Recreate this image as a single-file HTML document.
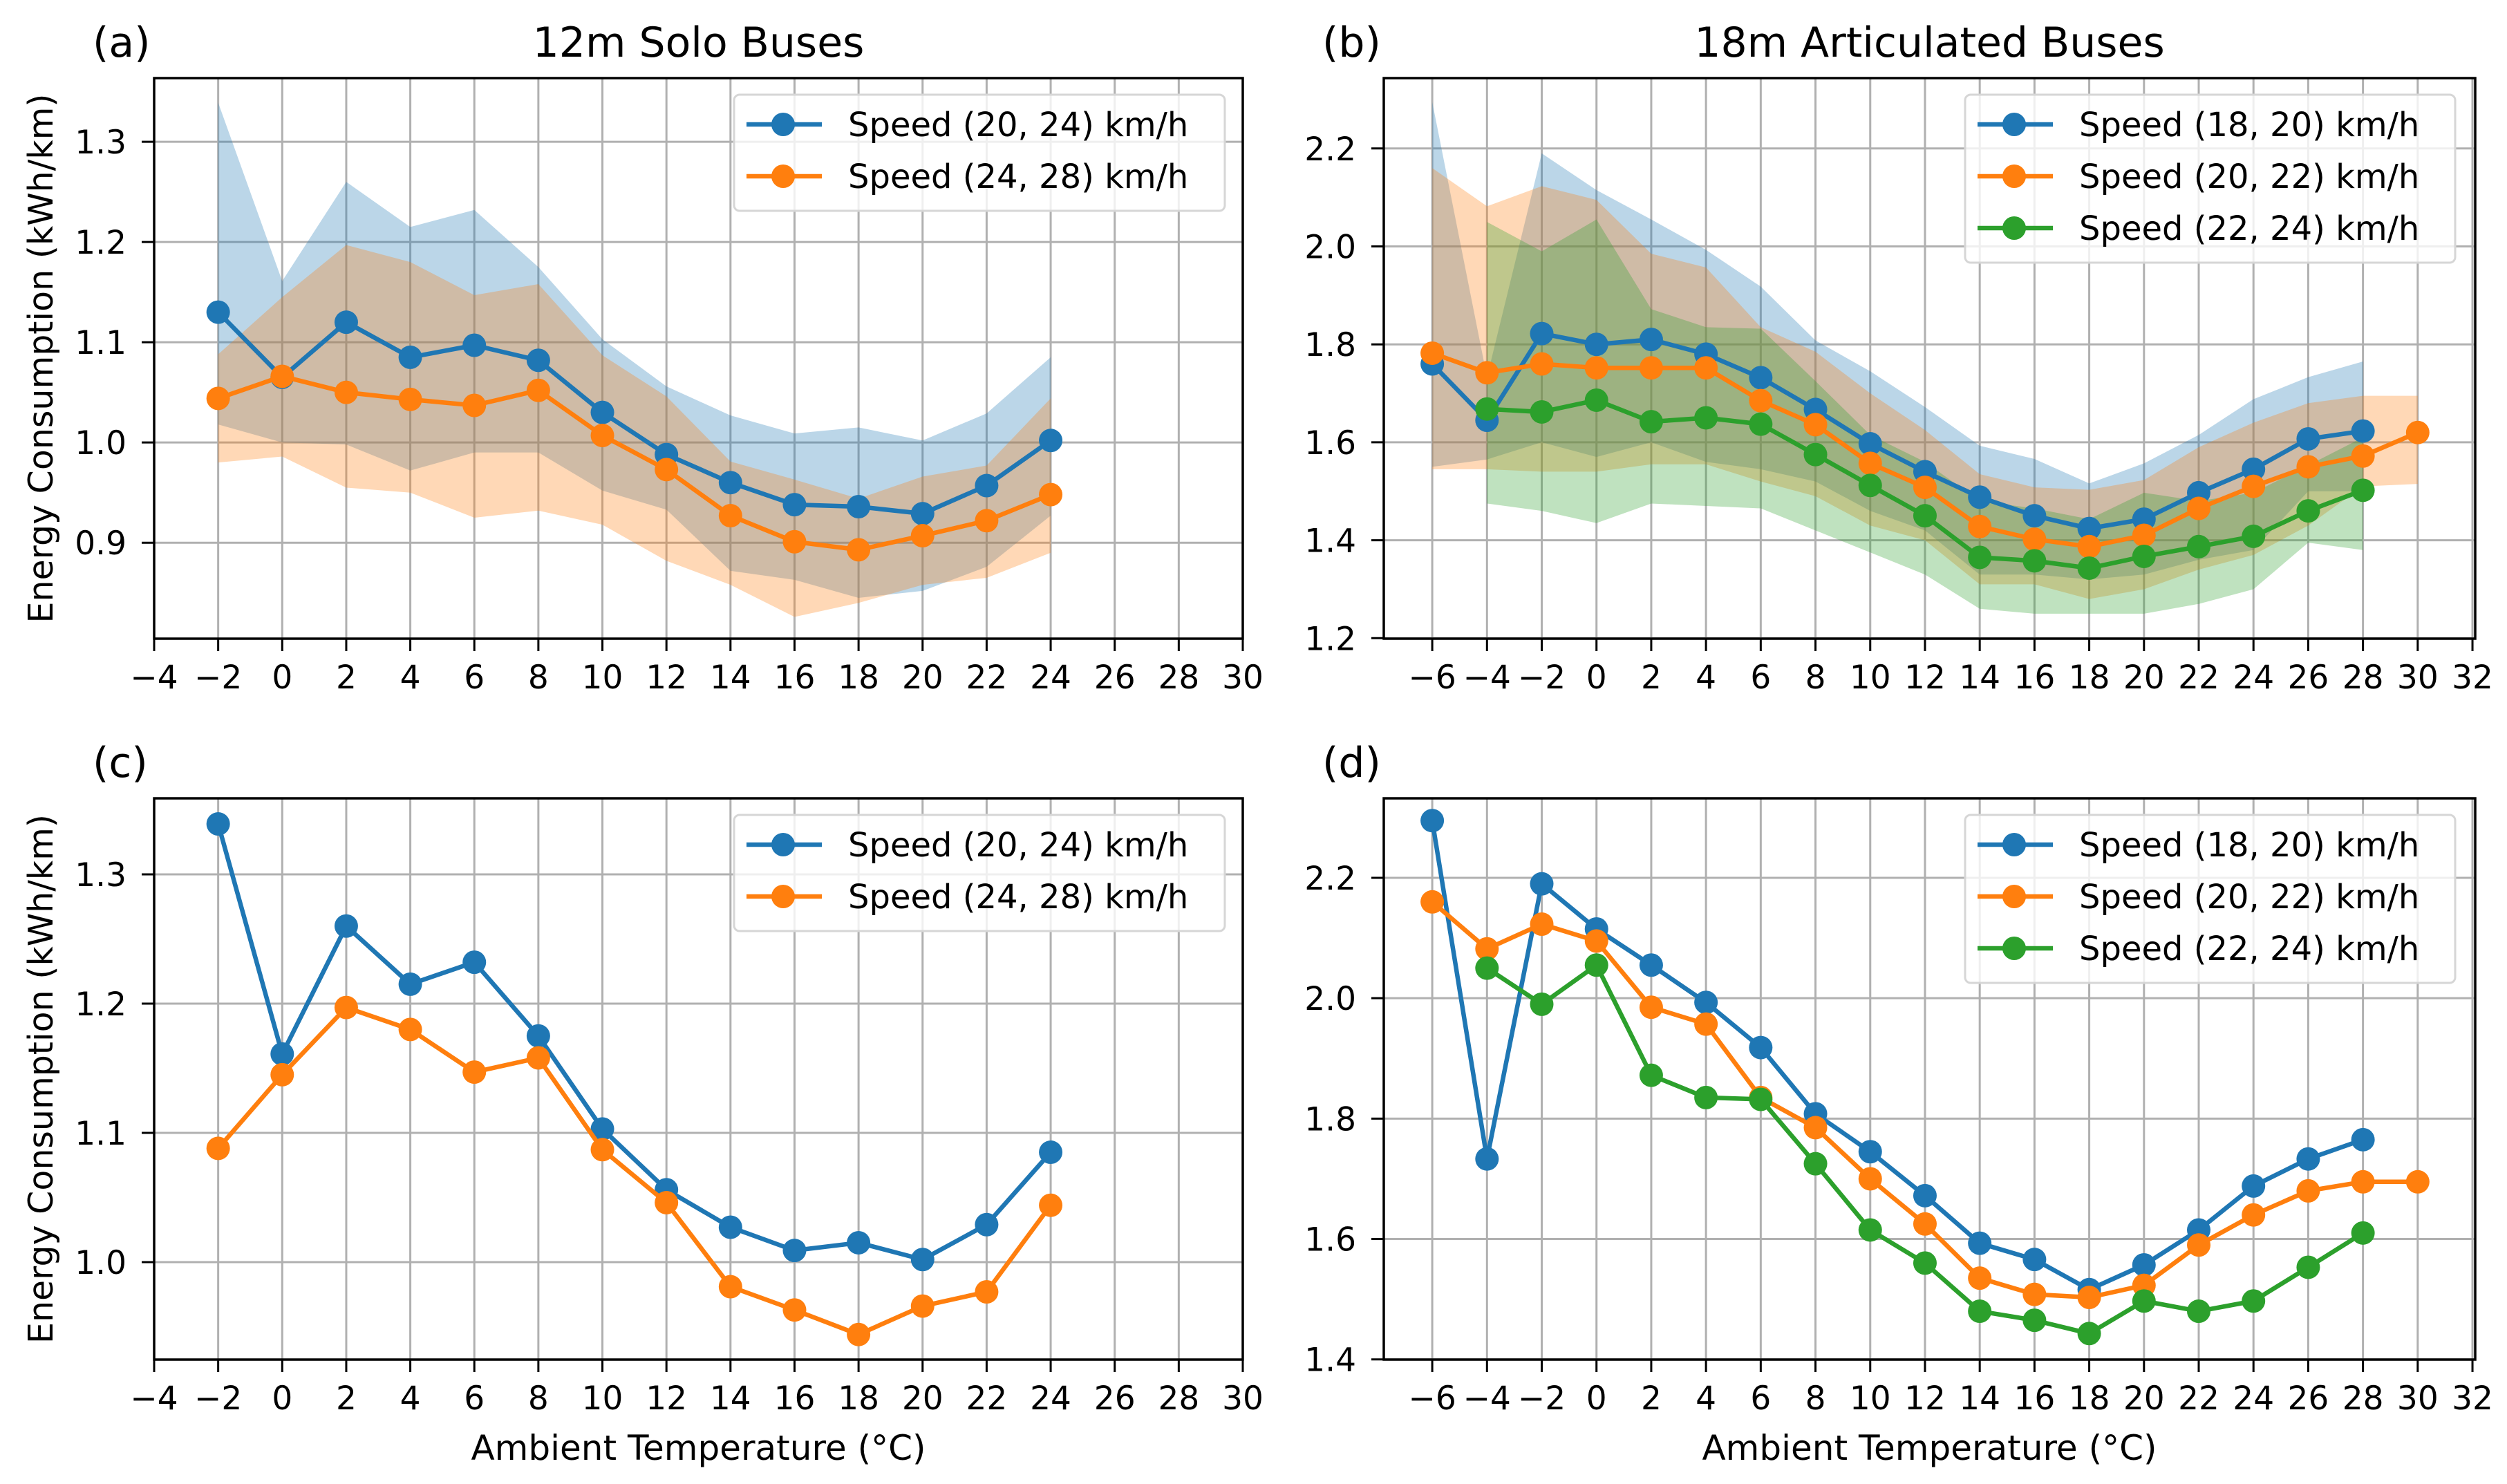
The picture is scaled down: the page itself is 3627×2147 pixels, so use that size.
<!DOCTYPE html>
<html><head><meta charset="utf-8"><style>
html,body{margin:0;padding:0;background:#fff}
svg{display:block;font-family:"DejaVu Sans","Liberation Sans",sans-serif}
</style></head><body>
<svg id="fig" width="3627" height="2147" viewBox="0 0 3627 2147" xmlns="http://www.w3.org/2000/svg"></svg>
<script>
// ---- data ----
const tempsA = [-2,0,2,4,6,8,10,12,14,16,18,20,22,24];
const aBlueMean = [1.13,1.065,1.12,1.085,1.097,1.082,1.03,0.988,0.96,0.938,0.936,0.929,0.957,1.002];
const aOrangeMean = [1.044,1.066,1.05,1.043,1.037,1.052,1.007,0.973,0.927,0.901,0.893,0.907,0.922,0.948];
const aBlueMax = [1.339,1.161,1.26,1.215,1.232,1.175,1.103,1.056,1.027,1.009,1.015,1.002,1.029,1.085];
const aOrangeMax = [1.088,1.145,1.197,1.18,1.147,1.158,1.087,1.046,0.981,0.963,0.944,0.966,0.977,1.044];
const aBlueMin = [1.018,1.0,0.998,0.972,0.99,0.99,0.952,0.933,0.872,0.863,0.845,0.852,0.876,0.927];
const aOrangeMin = [0.98,0.986,0.955,0.95,0.925,0.932,0.918,0.882,0.858,0.826,0.84,0.858,0.865,0.89];

const tempsBlue = [-6,-4,-2,0,2,4,6,8,10,12,14,16,18,20,22,24,26,28];
const tempsOrange = [-6,-4,-2,0,2,4,6,8,10,12,14,16,18,20,22,24,26,28,30];
const tempsGreen = [-4,-2,0,2,4,6,8,10,12,14,16,18,20,22,24,26,28];
const bBlueMean = [1.76,1.645,1.822,1.80,1.81,1.78,1.732,1.667,1.597,1.54,1.488,1.45,1.424,1.443,1.497,1.545,1.607,1.623];
const bOrangeMean = [1.782,1.742,1.76,1.752,1.752,1.752,1.685,1.636,1.557,1.508,1.428,1.402,1.387,1.41,1.465,1.51,1.55,1.572,1.62];
const bGreenMean = [1.668,1.662,1.686,1.642,1.65,1.637,1.575,1.512,1.45,1.365,1.358,1.343,1.367,1.387,1.408,1.46,1.502];
const bBlueMax = [2.295,1.733,2.19,2.115,2.055,1.993,1.918,1.808,1.745,1.672,1.593,1.566,1.516,1.557,1.615,1.688,1.733,1.765];
const bOrangeMax = [2.16,2.082,2.123,2.095,1.985,1.957,1.835,1.785,1.7,1.625,1.535,1.508,1.503,1.523,1.59,1.64,1.68,1.695,1.695];
const bGreenMax = [2.05,1.99,2.055,1.872,1.835,1.832,1.725,1.615,1.56,1.48,1.465,1.443,1.497,1.48,1.497,1.553,1.61];
const bBlueMin = [1.55,1.565,1.6,1.57,1.6,1.56,1.545,1.52,1.46,1.42,1.33,1.33,1.32,1.33,1.36,1.38,1.5,1.5];
const bOrangeMin = [1.545,1.545,1.54,1.54,1.555,1.555,1.52,1.49,1.43,1.4,1.31,1.31,1.28,1.3,1.34,1.37,1.43,1.51,1.515];
const bGreenMin = [1.475,1.46,1.435,1.475,1.47,1.465,1.42,1.375,1.33,1.26,1.25,1.25,1.25,1.27,1.3,1.395,1.38];

const xTicksA = [-4,-2,0,2,4,6,8,10,12,14,16,18,20,22,24,26,28,30];
const xTicksB = [-6,-4,-2,0,2,4,6,8,10,12,14,16,18,20,22,24,26,28,30,32];
const yTicksA = [0.9,1.0,1.1,1.2,1.3];
const yTicksC = [1.0,1.1,1.2,1.3];
const yTicksB = [1.2,1.4,1.6,1.8,2.0,2.2];
const yTicksD = [1.4,1.6,1.8,2.0,2.2];
const legendA = ["Speed (20, 24) km/h","Speed (24, 28) km/h"];
const legendB = ["Speed (18, 20) km/h","Speed (20, 22) km/h","Speed (22, 24) km/h"];

const C = {blue:"#1f77b4",orange:"#ff7f0e",green:"#2ca02c"};
const NS="http://www.w3.org/2000/svg";
const svg=document.getElementById('fig');
function mk(tag,attrs,parent){const e=document.createElementNS(NS,tag);for(const k in attrs)e.setAttribute(k,attrs[k]);(parent||svg).appendChild(e);return e;}
function fmt(v,d){let s=v.toFixed(d);return s.replace('-','\u2212');}

function panel(o){
  const g=mk('g',{});
  
  
  const sx=v=>o.x0+(v-o.xmin)/(o.xmax-o.xmin)*(o.x1-o.x0);
  const sy=v=>o.y1-(v-o.ymin)/(o.ymax-o.ymin)*(o.y1-o.y0);
  o.xt.forEach(t=>{const l=mk('line',{x1:sx(t),x2:sx(t),y1:o.y0,y2:o.y1,stroke:'#b0b0b0','stroke-width':3},g);
    });
  o.yt.forEach(t=>{const l=mk('line',{x1:o.x0,x2:o.x1,y1:sy(t),y2:sy(t),stroke:'#b0b0b0','stroke-width':3},g);
    });
  o.series.forEach(s=>{ if(!s.min) return;
    let pts=s.t.map((t,i)=>sx(t)+','+sy(s.max[i]));
    pts=pts.concat(s.t.map((t,i)=>sx(t)+','+sy(s.min[i])).reverse());
    const p=mk('polygon',{points:pts.join(' '),fill:s.c,'fill-opacity':0.3},g);
    
  });
  o.series.forEach(s=>{
    const pl=mk('polyline',{points:s.t.map((t,i)=>sx(t)+','+sy(s.v[i])).join(' '),fill:'none',stroke:s.c,'stroke-width':6.5,'stroke-linejoin':'round'},g);
    
    s.t.forEach((t,i)=>{const c=mk('circle',{cx:sx(t),cy:sy(s.v[i]),r:17,fill:s.c},g);
      });
  });
  const r=mk('rect',{x:o.x0,y:o.y0,width:o.x1-o.x0,height:o.y1-o.y0,fill:'none',stroke:'#000','stroke-width':3.5},g);
  
  o.xt.forEach(t=>{mk('line',{x1:sx(t),x2:sx(t),y1:o.y1,y2:o.y1+18,stroke:'#000','stroke-width':3},g);
    const tx=mk('text',{x:sx(t),y:o.y1+72,'text-anchor':'middle','font-size':47},g);tx.textContent=fmt(t,0);
    });
  o.yt.forEach(t=>{mk('line',{x1:o.x0-18,x2:o.x0,y1:sy(t),y2:sy(t),stroke:'#000','stroke-width':3},g);
    const tx=mk('text',{x:o.x0-40,y:sy(t)+17,'text-anchor':'end','font-size':47},g);tx.textContent=fmt(t,1);
    });
  const lab=mk('text',{x:o.x0-89,y:o.y0-31,'font-size':60},g);lab.textContent=o.label;
  
  if(o.title){const t=mk('text',{x:(o.x0+o.x1)/2,y:o.y0-31,'text-anchor':'middle','font-size':60},g);t.textContent=o.title;
    }
  if(o.ylabel){const t=mk('text',{x:0,y:0,'text-anchor':'middle','font-size':49,transform:`translate(76,${(o.y0+o.y1)/2}) rotate(-90)`},g);t.textContent='Energy Consumption (kWh/km)';
    }
  if(o.xlabel){const t=mk('text',{x:(o.x0+o.x1)/2,y:o.y1+145,'text-anchor':'middle','font-size':50},g);t.textContent='Ambient Temperature (°C)';
    }
  const n=o.leg.length, lx=o.lx, ly=o.ly, lw=o.lw, lh=18+n*75;
  const lg=mk('g',{},g);
  mk('rect',{x:lx,y:ly,width:lw,height:lh,rx:8,fill:'#fff','fill-opacity':0.8,stroke:'#d6d6d6','stroke-width':3},lg);
  o.leg.forEach((txt,i)=>{const cy=ly+43+i*75;const col=o.series[i].c;
    const e=mk('g',{},lg);
    mk('line',{x1:lx+18,x2:lx+127,y1:cy,y2:cy,stroke:col,'stroke-width':6.5},e);
    mk('circle',{cx:lx+71,cy:cy,r:17,fill:col},e);
    const t=mk('text',{x:lx+165,y:cy+17,'font-size':48},e);t.textContent=txt;});
}
panel({name:'panel-a',label:'(a)',title:'12m Solo Buses',ylabel:true,x0:223,x1:1798,y0:113,y1:924,xmin:-4,xmax:30,ymin:0.8043,ymax:1.3635,xt:xTicksA,yt:yTicksA,lx:1062,ly:137,lw:710,leg:legendA,
  series:[{key:'blue',c:C.blue,t:tempsA,v:aBlueMean,max:aBlueMax,min:aBlueMin},{key:'orange',c:C.orange,t:tempsA,v:aOrangeMean,max:aOrangeMax,min:aOrangeMin}]});
panel({name:'panel-b',label:'(b)',title:'18m Articulated Buses',x0:2002,x1:3581,y0:113,y1:924,xmin:-7.77,xmax:32.1,ymin:1.199,ymax:2.3437,xt:xTicksB,yt:yTicksB,lx:2843,ly:137,lw:709,leg:legendB,
  series:[{key:'blue',c:C.blue,t:tempsBlue,v:bBlueMean,max:bBlueMax,min:bBlueMin},{key:'orange',c:C.orange,t:tempsOrange,v:bOrangeMean,max:bOrangeMax,min:bOrangeMin},{key:'green',c:C.green,t:tempsGreen,v:bGreenMean,max:bGreenMax,min:bGreenMin}]});
panel({name:'panel-c',label:'(c)',ylabel:true,xlabel:true,x0:223,x1:1798,y0:1155,y1:1967,xmin:-4,xmax:30,ymin:0.9246,ymax:1.3588,xt:xTicksA,yt:yTicksC,lx:1062,ly:1179,lw:710,leg:legendA,
  series:[{key:'blue',c:C.blue,t:tempsA,v:aBlueMax},{key:'orange',c:C.orange,t:tempsA,v:aOrangeMax}]});
panel({name:'panel-d',label:'(d)',xlabel:true,x0:2002,x1:3581,y0:1155,y1:1967,xmin:-7.77,xmax:32.1,ymin:1.3997,ymax:2.332,xt:xTicksB,yt:yTicksD,lx:2843,ly:1179,lw:709,leg:legendB,
  series:[{key:'blue',c:C.blue,t:tempsBlue,v:bBlueMax},{key:'orange',c:C.orange,t:tempsOrange,v:bOrangeMax},{key:'green',c:C.green,t:tempsGreen,v:bGreenMax}]});
</script>
</body></html>
